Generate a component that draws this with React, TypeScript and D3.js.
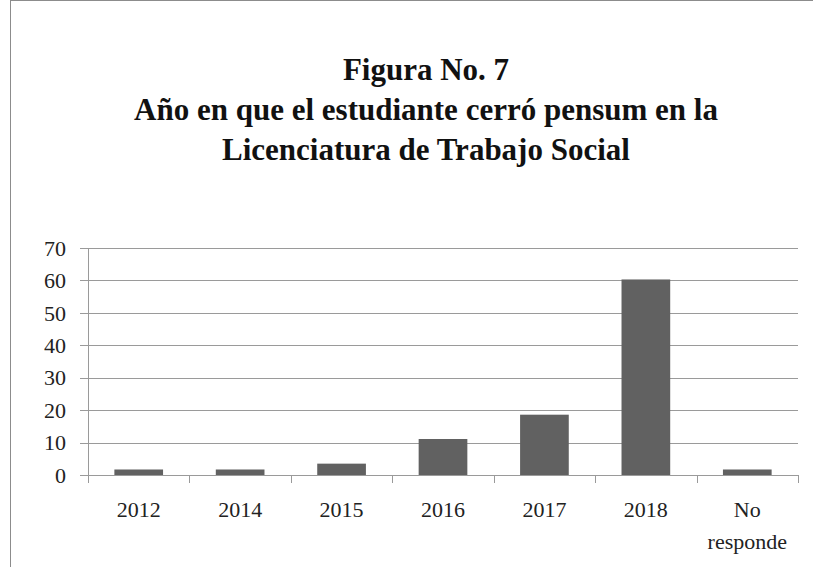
import React from "react";
import { scaleBand, scaleLinear } from "d3";

const categories = ["2012", "2014", "2015", "2016", "2017", "2018", "No responde"];
const values = [1.7, 1.7, 3.5, 11.1, 18.6, 60.3, 1.7];
const yTicks = [0, 10, 20, 30, 40, 50, 60, 70];
const titleLines = [
  "Figura No. 7",
  "Año en que el estudiante cerró pensum en la",
  "Licenciatura de Trabajo Social",
];

const W = 813;
const H = 567;
const font = "'Liberation Serif', 'DejaVu Serif', serif";

export default function App() {
  const margin = { left: 88, right: 15, top: 248, bottom: 92 };

  const x = scaleBand<string>()
    .domain(categories)
    .range([margin.left, W - margin.right])
    .paddingInner(0.52)
    .paddingOuter(0.26);

  const y = scaleLinear().domain([0, 70]).range([H - margin.bottom, margin.top]);

  const step = x.step();
  const x0 = margin.left;
  const x1 = W - margin.right;

  return (
    <svg
      width={W}
      height={H}
      style={{ position: "absolute", left: 0, top: 0, background: "#fff" }}
    >
      {/* outer frame */}
      <rect x={10.5} y={0.5} width={900} height={700} fill="none" stroke="#8c8c8c" />

      {/* title */}
      {titleLines.map((t, i) => (
        <text
          key={i}
          x={426}
          y={80 + i * 40}
          textAnchor="middle"
          fontFamily={font}
          fontWeight="bold"
          fontSize={31}
          fill="#111"
        >
          {t}
        </text>
      ))}

      {/* grid + y ticks */}
      {yTicks.map((v) => (
        <g key={v}>
          <line
            x1={x0 - 8}
            x2={x1}
            y1={Math.round(y(v)) + 0.5}
            y2={Math.round(y(v)) + 0.5}
            stroke="#9a9a9a"
          />
          <text
            x={x0 - 22}
            y={y(v)}
            dy="0.35em"
            textAnchor="end"
            fontFamily={font}
            fontSize={22}
            fill="#222"
          >
            {v}
          </text>
        </g>
      ))}

      {/* y axis line */}
      <line x1={x0 + 0.5} x2={x0 + 0.5} y1={y(70)} y2={y(0)} stroke="#9a9a9a" />

      {/* bars */}
      {categories.map((c, i) => (
        <rect
          key={c}
          x={x(c)}
          y={y(values[i])}
          width={x.bandwidth()}
          height={y(0) - y(values[i])}
          fill="#616161"
        />
      ))}

      {/* x category ticks */}
      {categories.concat([""]).map((_, i) => (
        <line
          key={i}
          x1={Math.round(x0 + i * step) + 0.5}
          x2={Math.round(x0 + i * step) + 0.5}
          y1={y(0)}
          y2={y(0) + 8}
          stroke="#9a9a9a"
        />
      ))}

      {/* x labels */}
      {categories.map((c) => {
        const parts = c === "No responde" ? ["No", "responde"] : [c];
        return parts.map((p, j) => (
          <text
            key={c + j}
            x={(x(c) ?? 0) + x.bandwidth() / 2}
            y={y(0) + 42 + j * 32}
            textAnchor="middle"
            fontFamily={font}
            fontSize={22}
            fill="#222"
          >
            {p}
          </text>
        ));
      })}
    </svg>
  );
}
